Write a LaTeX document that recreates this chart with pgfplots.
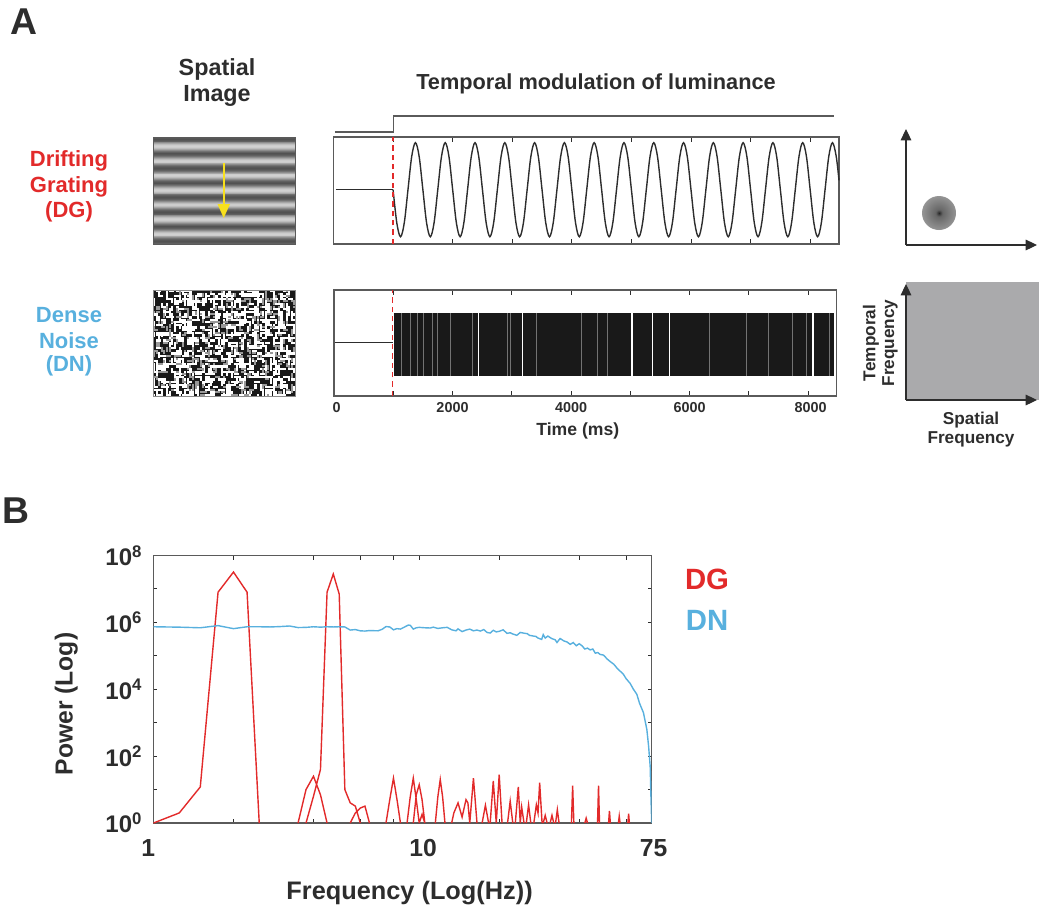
\documentclass[border=0pt]{standalone}
\usepackage{pgfplots}
\pgfplotsset{compat=1.18}
\usepackage{fontspec}
\setmainfont{Liberation Sans}
\usetikzlibrary{arrows.meta}
\definecolor{dgred}{RGB}{226,42,42}
\definecolor{dnblue}{RGB}{88,176,222}
\definecolor{ink}{RGB}{45,45,45}
\definecolor{frame}{RGB}{90,90,90}
\definecolor{sqgray}{RGB}{170,170,172}
\definecolor{arrowyellow}{RGB}{248,224,30}
\newcommand{\fs}[1]{\fontsize{#1}{#1}\selectfont\bfseries}
\pgfdeclareradialshading{disc}{\pgfpoint{0bp}{0bp}}{color(0bp)=(black!85); color(5bp)=(black!60); color(25bp)=(black!42); color(46bp)=(black!25); color(50bp)=(black!18)}
\newcount\ns \ns=12345
\newcount\nt
\pgfplotsset{
  timeaxis/.style={scale only axis, axis line style={frame,line width=1.1pt},
    xmin=0,xmax=8484, ytick=\empty, tick align=inside, xminorticks=false,
    major tick length=4pt, tick style={ink,line width=0.7pt},
    xtick={0,1000,2000,3000,4000,5000,6000,7000,8000}, unbounded coords=jump},
}
\begin{document}
\begin{tikzpicture}[x=0.75pt,y=-0.75pt]
\path[use as bounding box] (0,0) rectangle (1039,911);

% panel letters
\node[ink,font=\fs{28},anchor=center] at (24,22) {A};
\node[ink,font=\fs{28},anchor=center] at (16,511) {B};

% headings
\node[ink,font=\fs{17.5},align=center] at (217,69) {Spatial};
\node[ink,font=\fs{17.5},align=center] at (217,96) {Image};
\node[ink,font=\fs{16.3}] at (596,84) {Temporal modulation of luminance};

% row labels
\node[dgred,font=\fs{16.5}] at (69,161) {Drifting};
\node[dgred,font=\fs{16.5}] at (69,187) {Grating};
\node[dgred,font=\fs{16.5}] at (69,212) {(DG)};
\node[dnblue,font=\fs{16.5}] at (69,315) {Dense};
\node[dnblue,font=\fs{16.5}] at (69,341) {Noise};
\node[dnblue,font=\fs{16.5}] at (69,366) {(DN)};

% grating image
\begin{scope}
\clip (153,137) rectangle (295,244);
\foreach \i in {0,...,118}{
  \pgfmathsetmacro{\yy}{137+0.9125*\i}
  \pgfmathtruncatemacro{\val}{{18,20,26,35,45,55,62,66,68,66,62,55,45,35,26,20}[int(mod(\i+6,16))]}
  \fill[black!\val] (153,\yy) rectangle (295,\yy+1.1);
}
\end{scope}
\draw[frame,line width=0.7pt] (153,137) rectangle (295,244);
\draw[arrowyellow,line width=1.3pt] (223.7,163) -- (223.7,206);
\fill[arrowyellow] (217.5,204) -- (230,204) -- (223.7,218) -- cycle;

% noise image
\fill[black!90] (153,290) rectangle (295,396);
\begin{scope}
\clip (153,290) rectangle (295,396);
\foreach \r in {0,...,41}{\foreach \c in {0,...,55}{%
  \global\multiply\ns by 75 \global\advance\ns by 74
  \nt=\ns \divide\nt by 65537 \multiply\nt by 65537 \global\advance\ns by -\nt
  \nt=\ns \divide\nt by 256
  \ifnum\nt>135
    \ifnum\nt<175
      \fill[white] (153+2.6*\c,290+2.6*\r) rectangle +(5.2,2.2);
    \else
      \ifnum\nt<215
        \fill[white] (153+2.6*\c,290+2.6*\r) rectangle +(2.2,5.2);
      \else
        \ifnum\nt<236
          \fill[black!40] (153+2.6*\c,290+2.6*\r) rectangle +(4.6,2.0);
        \else
          \fill[black!40] (153+2.6*\c,290+2.6*\r) rectangle +(2.0,4.6);
        \fi
      \fi
    \fi
  \fi
}}
\end{scope}
\draw[frame!70,line width=0.7pt] (153,290) rectangle (295,396);

% DG time course
\begin{axis}[timeaxis, clip=false, at={(0.75*333.5pt,-0.75*244pt)}, anchor=south west,
  width=0.75*505.5pt, height=0.75*107pt, ymin=-1.155, ymax=1.121, xticklabels={}]
\addplot[frame,line width=0.8pt,forget plot] coordinates {(25,1.228)(1000,1.228)(1000,1.568)(8395,1.568)};
\addplot[ink,line width=0.9pt,forget plot] coordinates {(40,0)(1000,0)};
\addplot[ink,line width=1.05pt,smooth,tension=0.55] coordinates {
(1000,0)(1062.5,-.707)(1125,-1)(1187.5,-.707)(1250,0)(1312.5,.707)(1375,1)(1437.5,.707)
(1500,0)(1562.5,-.707)(1625,-1)(1687.5,-.707)(1750,0)(1812.5,.707)(1875,1)(1937.5,.707)
(2000,0)(2062.5,-.707)(2125,-1)(2187.5,-.707)(2250,0)(2312.5,.707)(2375,1)(2437.5,.707)
(2500,0)(2562.5,-.707)(2625,-1)(2687.5,-.707)(2750,0)(2812.5,.707)(2875,1)(2937.5,.707)
(3000,0)(3062.5,-.707)(3125,-1)(3187.5,-.707)(3250,0)(3312.5,.707)(3375,1)(3437.5,.707)
(3500,0)(3562.5,-.707)(3625,-1)(3687.5,-.707)(3750,0)(3812.5,.707)(3875,1)(3937.5,.707)
(4000,0)(4062.5,-.707)(4125,-1)(4187.5,-.707)(4250,0)(4312.5,.707)(4375,1)(4437.5,.707)
(4500,0)(4562.5,-.707)(4625,-1)(4687.5,-.707)(4750,0)(4812.5,.707)(4875,1)(4937.5,.707)
(5000,0)(5062.5,-.707)(5125,-1)(5187.5,-.707)(5250,0)(5312.5,.707)(5375,1)(5437.5,.707)
(5500,0)(5562.5,-.707)(5625,-1)(5687.5,-.707)(5750,0)(5812.5,.707)(5875,1)(5937.5,.707)
(6000,0)(6062.5,-.707)(6125,-1)(6187.5,-.707)(6250,0)(6312.5,.707)(6375,1)(6437.5,.707)
(6500,0)(6562.5,-.707)(6625,-1)(6687.5,-.707)(6750,0)(6812.5,.707)(6875,1)(6937.5,.707)
(7000,0)(7062.5,-.707)(7125,-1)(7187.5,-.707)(7250,0)(7312.5,.707)(7375,1)(7437.5,.707)
(7500,0)(7562.5,-.707)(7625,-1)(7687.5,-.707)(7750,0)(7812.5,.707)(7875,1)(7937.5,.707)
(8000,0)(8062.5,-.707)(8125,-1)(8187.5,-.707)(8250,0)(8312.5,.707)(8375,1)(8437.5,.707)(8484,.2)};
\addplot[dgred,line width=1pt,solid,dash pattern=on 4pt off 3pt,forget plot] coordinates {(1000,-1.155)(1000,1.121)};
\end{axis}

% DN time course
\begin{axis}[timeaxis, at={(0.75*334pt,-0.75*396pt)}, anchor=south west,
  width=0.75*502.7pt, height=0.75*106pt, ymin=-1.648, ymax=1.734,
  xticklabels={\makebox[0pt]{\hspace{4pt}0},,2000,,4000,,6000,,\makebox[0pt]{\hspace{4pt}8000}},
  tick label style={font=\fs{10.8},text=ink},
  every x tick label/.append style={yshift=-1pt},
  xlabel={Time (ms)},
  every axis x label/.style={at={(axis description cs:0.485,-0.33)},anchor=center,font=\fs{13.2},text=ink}]
\addplot[ink,line width=0.9pt,forget plot] coordinates {(20,.053)(1000,.053)};
\addplot[draw=none,fill=black!90] coordinates {(1005,-1)(1005,1)(8438,1)(8438,-1)} --cycle;
\addplot[white,line width=1.3pt,forget plot] coordinates {
(2440,-1.05)(2440,1.05)(2440,nan)(3181,-1.05)(3181,1.05)(3181,nan)(5034,-1.05)(5034,1.05)(5034,nan)
(5376,-1.05)(5376,1.05)(5376,nan)(5661,-1.05)(5661,1.05)(5661,nan)(8084,-1.05)(8084,1.05)};
\addplot[black!55,line width=0.45pt,forget plot] coordinates {
(1140,-1)(1140,1)(1140,nan)(1288,-1)(1288,1)(1288,nan)(1402,-1)(1402,1)(1402,nan)(1499,-1)(1499,1)(1499,nan)
(1653,-1)(1653,1)(1653,nan)(1745,-1)(1745,1)(1745,nan)(1955,-1)(1955,1)(1955,nan)(2326,-1)(2326,1)(2326,nan)
(2930,-1)(2930,1)(2930,nan)(2982,-1)(2982,1)(2982,nan)(3420,-1)(3420,1)(3420,nan)(4179,-1)(4179,1)(4179,nan)
(4447,-1)(4447,1)(4447,nan)(4606,-1)(4606,1)(4606,nan)(6328,-1)(6328,1)(6328,nan)(6955,-1)(6955,1)(6955,nan)
(7326,-1)(7326,1)(7326,nan)(7742,-1)(7742,1)(7742,nan)(7970,-1)(7970,1)(7970,nan)(8358,-1)(8358,1)};
\addplot[dgred,line width=1.1pt,solid,dash pattern=on 4pt off 3pt,forget plot] coordinates {(985,-1.648)(985,1.734)};
\end{axis}

% right hand spectra sketches
\draw[ink,line width=0.8pt,-{Triangle[length=8.5pt,width=8pt]}] (906,245) -- (906,129);
\draw[ink,line width=0.8pt,-{Triangle[length=8.5pt,width=8pt]}] (906,245) -- (1037,245);
\shade[shading=disc] (939,213) circle (17);
\fill[sqgray] (906,282) rectangle (1039,400);
\draw[ink,line width=0.8pt,-{Triangle[length=8.5pt,width=8pt]}] (906,400) -- (906,284);
\draw[ink,line width=0.8pt,-{Triangle[length=8.5pt,width=8pt]}] (906,400) -- (1037,400);
\node[ink,font=\fs{12.9},rotate=90] at (871,343) {Temporal};
\node[ink,font=\fs{12.9},rotate=90] at (890,343) {Frequency};
\node[ink,font=\fs{12.9}] at (971,420) {Spatial};
\node[ink,font=\fs{12.9}] at (971,439) {Frequency};

% panel B legend
\node[dgred,font=\fs{22}] at (707,579) {DG};
\node[dnblue,font=\fs{22}] at (707,620) {DN};

% panel B
\begin{axis}[scale only axis, at={(0.75*153.5pt,-0.75*823pt)}, anchor=south west,
  width=0.75*498.2pt, height=0.75*267.5pt,
  xmode=log, ymode=log, xmin=1, xmax=75, ymin=1, ymax=1e8,
  axis line style={frame,line width=1.1pt},
  tick align=inside, xminorticks=false, yminorticks=false,
  major tick length=3pt, tick style={ink,line width=0.7pt},
  xtick={1,2,4,6,8,10,20,40,60,75},
  xticklabels={\makebox[0pt]{\hspace{-8pt}1},,,,,\makebox[0pt]{\hspace{6pt}10},,,,\makebox[0pt]{\hspace{3pt}75}},
  ytick={1,10,100,1000,1e4,1e5,1e6,1e7,1e8},
  yticklabels={10\textsuperscript{0},,10\textsuperscript{2},,10\textsuperscript{4},,10\textsuperscript{6},,10\textsuperscript{8}},
  x tick label style={font=\fs{18.5},text=ink,yshift=-9pt},
  y tick label style={font=\fs{18},text=ink,xshift=-5pt},
  xlabel={Frequency (Log(Hz))}, ylabel={Power (Log)},
  every axis x label/.style={at={(axis description cs:0.514,-0.262)},anchor=center,font=\fs{19},text=ink},
  every axis y label/.style={at={(axis description cs:-0.175,0.445)},anchor=center,rotate=90,font=\fs{18.5},text=ink},
  unbounded coords=jump]
\addplot[dgred,line width=1.05pt] coordinates {
(1,1)(1.25,2)(1.5,12)(1.75,8e6)(2,3.2e7)(2.25,8e6)(2.5,1)(2.5,nan)
(3.5,1)(3.75,10)(4,25)(4.25,7)(4.5,1)(4.5,nan)
(3.75,1)(4,6.3)(4.25,40)(4.5,8e6)(4.75,2.8e7)(5,7e6)(5.25,10)(5.5,4)(5.75,3.2)(6,1)(6,nan)
(5.5,1)(5.75,2)(6,2.8)(6.25,3.2)(6.5,1)(6.5,nan)
(7.5,1)(7.75,5)(8,22)(8.25,5)(8.5,1)(8.5,nan)
(9,1)(9.25,6)(9.5,22)(9.75,5)(10,1)(10,nan)
(9.5,1)(9.75,7)(10,14)(10.25,5)(10.5,1)(10.5,nan)
(10,1)(10.25,1.8)(10.5,1)(10.5,nan)
(11.5,1)(11.75,6)(12,20)(12.25,6)(12.5,1)(12.5,nan)
(13.25,1)(13.5,2)(14,4)(14.5,1.5)(15,5)(15.25,4)(15.5,1)(15.5,nan)
(15.5,1)(16,22)(16.5,1)(16.5,nan)
(17.25,1)(17.75,3.4)(18.25,1)(18.25,nan)
(18.5,1)(19,18)(19.5,1)(19.5,nan)
(19.5,1)(20,28)(20.5,1)(20.5,nan)
(21.5,1)(22,4.5)(22.5,1)(22.5,nan)
(23,1)(23.6,12)(24,1)(24,nan)
(24,1)(24.3,3)(24.8,1)(24.8,nan)
(25.3,1)(25.8,3.5)(26.3,1)(26.3,nan)
(27,1)(27.6,3.5)(28,2)(28.4,16)(29,1)(29,nan)
(29.3,1)(29.8,1.7)(30.3,1)(30.3,nan)
(31.1,1)(31.6,1.7)(32.1,1)(32.1,nan)
(32.6,1)(33.1,2.5)(33.6,1)(33.6,nan)
(37.4,1)(37.8,13)(38.2,1)(38.2,nan)
(42,1)(42.5,1.4)(43,1)(43,nan)
(46.9,1)(47.3,13)(47.7,1)(47.7,nan)
(51.6,1)(52,2.3)(52.4,1)(52.4,nan)
(56.2,1)(56.6,1.6)(57,1)(57,nan)
(61,1)(61.4,1.9)(61.8,1)};
\addplot[dnblue,line width=1.05pt] coordinates {
(1,7.4e5)(1.25,7.2e5)(1.5,6.9e5)(1.75,8e5)(2,6.5e5)(2.25,7.4e5)(2.5,7.4e5)(2.75,7.3e5)(3,7.5e5)(3.25,7.8e5)
(3.5,7e5)(3.75,7.1e5)(4,7.4e5)(4.25,7.2e5)(4.5,7.4e5)(4.75,7.3e5)(5,7.4e5)(5.25,7.3e5)(5.5,5.9e5)(5.75,6.1e5)
(6,5.6e5)(6.25,5.5e5)(6.5,5.7e5)(7,5.6e5)(7.25,6.2e5)(7.5,7.5e5)(7.75,7.3e5)(8,6e5)(8.25,6.5e5)(8.5,6.3e5)
(9.1,8.3e5)(9.25,8.2e5)(9.5,6.3e5)(9.75,6.9e5)(10,7.1e5)(10.5,6.9e5)(11,6.8e5)(11.3,7.2e5)(11.75,6.6e5)(12.25,6.9e5)
(12.75,7.1e5)(13.25,6e5)(13.75,5.6e5)(14,6.4e5)(14.5,5.3e5)(15,5.9e5)(15.5,6.3e5)(16,5.6e5)(16.5,5.9e5)(17,5.5e5)
(17.5,6.1e5)(18,5e5)(18.5,4.8e5)(19,5.8e5)(19.5,5.2e5)(20,5.4e5)(20.7,6e5)(21.4,4.7e5)(22,4.9e5)(22.5,4.5e5)
(23.3,4.1e5)(24,5e5)(25,4.7e5)(25.5,4.6e5)(26,4.1e5)(26.9,3.9e5)(27.5,3.8e5)(28,3.4e5)(28.9,3.1e5)(29.3,4.3e5)
(29.8,3.4e5)(30.5,3.9e5)(31.5,3.3e5)(32.5,3e5)(33,2.5e5)(33.9,3.3e5)(35,2.8e5)(36,2.6e5)(37,2.2e5)(38,2.5e5)
(39,2e5)(40,2.3e5)(41,2e5)(42,1.6e5)(43,1.7e5)(44,1.5e5)(45,1.6e5)(46,1.2e5)(47,1.25e5)(48,1.1e5)
(49.4,1.05e5)(51,8e4)(52.5,6.6e4)(54,5.6e4)(55.5,4.3e4)(57,3.5e4)(58.7,2.8e4)(60,2.1e4)(62.2,1.5e4)(64,1e4)
(65.9,7.1e3)(67.5,3.8e3)(69.8,2e3)(71.9,630)(73,200)(74,50)(74.5,6.3)(75,1)};
\end{axis}
\end{tikzpicture}
\end{document}
